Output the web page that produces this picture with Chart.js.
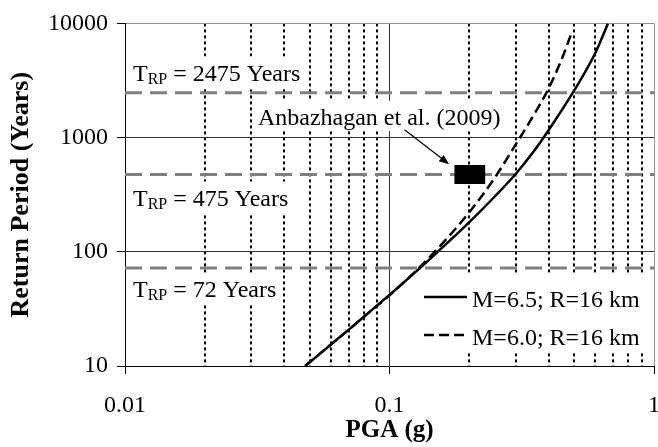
<!DOCTYPE html>
<html>
<head>
<meta charset="utf-8">
<script src="https://cdn.jsdelivr.net/npm/chart.js@4/dist/chart.umd.min.js"></script>
<style>
html, body { margin: 0; padding: 0; background: #fff; }
#wrap { width: 658px; height: 447px; }
</style>
</head>
<body>
<div id="wrap"><canvas id="hazardChart" width="658" height="447"></canvas></div>
<script>
// Hazard curves (PGA in g, return period in years)
const pgaM65 = [0.048, 0.06, 0.07, 0.08, 0.1, 0.125, 0.15, 0.2, 0.25, 0.3, 0.35, 0.4, 0.5, 0.6, 0.67];
const rpM65  = [10, 15.4, 20.7, 27, 42, 66, 97, 181, 305, 480, 750, 1165, 2600, 5500, 10000];
const pgaM60 = [0.048, 0.06, 0.07, 0.08, 0.1, 0.125, 0.15, 0.2, 0.25, 0.3, 0.35, 0.4, 0.45, 0.49];
const rpM60  = [10, 15.4, 20.7, 27, 41.5, 67, 103, 221, 445, 870, 1560, 2710, 5000, 8500];

const seriesNames = ['M=6.5; R=16 km', 'M=6.0; R=16 km'];

// design return periods
const designPeriods = [2475, 475, 72];
const designTexts = [' = 2475 Years', ' = 475 Years', ' = 72 Years'];

// Anbazhagan et al. (2009) range at 475 years
const studyPga = [0.176, 0.23];
const studyRp = 475;
const studyLabel = 'Anbazhagan et al. (2009)';

// axes
const xTickValues = [0.01, 0.02, 0.03, 0.04, 0.05, 0.06, 0.07, 0.08, 0.09,
                     0.1, 0.2, 0.3, 0.4, 0.5, 0.6, 0.7, 0.8, 0.9, 1];
const xMajorValues = [0.01, 0.1, 1];
const xMajorLabels = ['0.01', '0.1', '1'];
const yTickValues = [10, 100, 1000, 10000];
const yTickLabels = ['10', '100', '1000', '10000'];

const serif = "'Liberation Serif', 'Times New Roman', serif";

function toPoints(xs, ys) {
    return xs.map(function(v, i) { return { x: v, y: ys[i] }; });
}

const datasets = [
    {
        label: seriesNames[0],
        data: toPoints(pgaM65, rpM65),
        borderColor: '#000',
        borderWidth: 2.5,
        cubicInterpolationMode: 'monotone',
        order: 1
    },
    {
        label: seriesNames[1],
        data: toPoints(pgaM60, rpM60),
        borderColor: '#000',
        borderWidth: 2.5,
        borderDash: [10, 5],
        cubicInterpolationMode: 'monotone',
        order: 1
    },
    {
        label: 'study',
        data: studyPga.map(function(v) { return { x: v, y: studyRp }; }),
        borderColor: '#000',
        borderWidth: 19,
        borderCapStyle: 'butt',
        order: 0
    }
];
designPeriods.forEach(function(rp) {
    datasets.push({
        label: 'T' + rp,
        data: [{ x: 0.01, y: rp }, { x: 1, y: rp }],
        borderColor: '#808080',
        borderWidth: 3,
        borderDash: [17, 8],
        order: 3
    });
});

// text offsets of the design period labels (px from the line)
const designOffsets = [-12, 31, 29];

function drawTrp(ctx, x0, base, text) {
    ctx.font = '24px ' + serif;
    const wT = ctx.measureText('T').width;
    ctx.font = '16px ' + serif;
    const wSub = ctx.measureText('RP').width;
    ctx.font = '24px ' + serif;
    const wRest = ctx.measureText(text).width;
    ctx.fillStyle = '#fff';
    ctx.fillRect(x0 - 5, base - 24, wT + wSub + wRest + 8, 32);
    ctx.fillStyle = '#000';
    ctx.textBaseline = 'alphabetic';
    ctx.textAlign = 'left';
    ctx.fillText('T', x0, base);
    ctx.font = '16px ' + serif;
    ctx.fillText('RP', x0 + wT, base + 3);
    ctx.font = '24px ' + serif;
    ctx.fillText(text, x0 + wT + wSub, base);
}

const notesPlugin = {
    id: 'hazardNotes',
    afterDatasetsDraw: function(chart) {
        const ctx = chart.ctx;
        const area = chart.chartArea;
        const xs = chart.scales.x;
        const ys = chart.scales.y;
        ctx.save();

        // T_RP labels
        designPeriods.forEach(function(rp, i) {
            drawTrp(ctx, area.left + 8, ys.getPixelForValue(rp) + designOffsets[i], designTexts[i]);
        });

        // study label and arrow
        ctx.font = '24px ' + serif;
        const lx = xs.getPixelForValue(0.0318);
        const lb = ys.getPixelForValue(1295);
        const lw = ctx.measureText(studyLabel).width;
        ctx.fillStyle = '#fff';
        ctx.fillRect(lx - 5, lb - 24, lw + 8, 30);
        ctx.fillStyle = '#000';
        ctx.textAlign = 'left';
        ctx.textBaseline = 'alphabetic';
        ctx.fillText(studyLabel, lx, lb);

        const ax1 = xs.getPixelForValue(0.114), ay1 = ys.getPixelForValue(1172);
        const ax2 = xs.getPixelForValue(0.168), ay2 = ys.getPixelForValue(585);
        const ang = Math.atan2(ay2 - ay1, ax2 - ax1);
        ctx.strokeStyle = '#000';
        ctx.lineWidth = 1.2;
        ctx.beginPath();
        ctx.moveTo(ax1, ay1);
        ctx.lineTo(ax2 - 8 * Math.cos(ang), ay2 - 8 * Math.sin(ang));
        ctx.stroke();
        ctx.beginPath();
        ctx.moveTo(ax2, ay2);
        ctx.lineTo(ax2 - 10 * Math.cos(ang) + 4 * Math.sin(ang), ay2 - 10 * Math.sin(ang) - 4 * Math.cos(ang));
        ctx.lineTo(ax2 - 10 * Math.cos(ang) - 4 * Math.sin(ang), ay2 - 10 * Math.sin(ang) + 4 * Math.cos(ang));
        ctx.closePath();
        ctx.fill();

        // legend
        const bx = 420, by = area.bottom - 93;
        ctx.fillStyle = '#fff';
        ctx.fillRect(bx, by, area.right - bx - 1, 80);
        seriesNames.forEach(function(name, i) {
            const ly = by + 24 + i * 38;
            const ds = chart.data.datasets[i];
            ctx.strokeStyle = '#000';
            ctx.lineWidth = 2.5;
            ctx.setLineDash(ds.borderDash || []);
            ctx.beginPath();
            ctx.moveTo(bx + 4, ly);
            ctx.lineTo(bx + 47, ly);
            ctx.stroke();
            ctx.setLineDash([]);
            ctx.fillStyle = '#000';
            ctx.font = '24px ' + serif;
            ctx.fillText(name, bx + 52, ly + 10);
        });
        ctx.restore();
    }
};

function isMajorX(v) { return xMajorValues.indexOf(v) >= 0; }

new Chart(document.getElementById('hazardChart'), {
    type: 'line',
    data: { datasets: datasets },
    plugins: [notesPlugin],
    options: {
        responsive: false,
        animation: false,
        layout: { padding: { top: 19, right: 4, left: 0, bottom: 0 } },
        elements: { point: { radius: 0 } },
        plugins: { legend: { display: false }, tooltip: { enabled: false } },
        scales: {
            x: {
                type: 'logarithmic',
                min: 0.01,
                max: 1,
                afterBuildTicks: function(axis) {
                    axis.ticks = xTickValues.map(function(v) { return { value: v, major: isMajorX(v) }; });
                },
                afterFit: function(axis) {
                    axis.height = 81;
                    axis.paddingLeft = 0;
                    axis.paddingRight = 0;
                },
                ticks: {
                    autoSkip: false,
                    maxRotation: 0,
                    padding: 17,
                    color: '#000',
                    font: { family: serif, size: 24 },
                    callback: function(v) {
                        const i = xMajorValues.indexOf(v);
                        return i >= 0 ? xMajorLabels[i] : '';
                    }
                },
                grid: {
                    color: function(c) {
                        if (!c.tick) return '#000';
                        if (c.tick.value === 1) return '#909090';
                        return isMajorX(c.tick.value) ? '#333' : '#000';
                    },
                    lineWidth: function(c) {
                        return c.tick && !isMajorX(c.tick.value) ? 2 : 1;
                    },
                    tickColor: function(c) {
                        return c.tick && isMajorX(c.tick.value) ? '#000' : 'rgba(0,0,0,0)';
                    },
                    tickLength: 8,
                    tickWidth: 1
                },
                border: {
                    color: '#000',
                    width: 1,
                    dash: function(c) {
                        return c.tick && !isMajorX(c.tick.value) ? [3, 3] : [];
                    }
                },
                title: {
                    display: true,
                    text: 'PGA (g)',
                    color: '#000',
                    font: { family: serif, size: 25, weight: 'bold' },
                    padding: { top: 0, bottom: 1 }
                }
            },
            y: {
                type: 'logarithmic',
                min: 10,
                max: 10000,
                afterBuildTicks: function(axis) {
                    axis.ticks = yTickValues.map(function(v) { return { value: v, major: true }; });
                },
                afterFit: function(axis) {
                    axis.width = 125;
                },
                ticks: {
                    autoSkip: false,
                    padding: 9,
                    color: '#000',
                    font: { family: serif, size: 24 },
                    callback: function(v) {
                        const i = yTickValues.indexOf(v);
                        return i >= 0 ? yTickLabels[i] : '';
                    }
                },
                grid: {
                    color: function(c) {
                        return c.tick && c.tick.value === 10000 ? '#909090' : '#333';
                    },
                    lineWidth: 1,
                    tickColor: '#000',
                    tickLength: 8
                },
                border: { color: '#000', width: 1 },
                title: {
                    display: true,
                    text: 'Return Period (Years)',
                    color: '#000',
                    font: { family: serif, size: 26, weight: 'bold' },
                    padding: { top: 6, bottom: 0 }
                }
            }
        }
    }
});
</script>
</body>
</html>
